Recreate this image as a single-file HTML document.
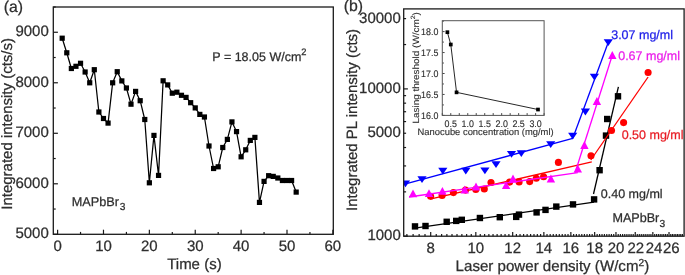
<!DOCTYPE html>
<html><head><meta charset="utf-8"><style>
html,body{margin:0;padding:0;background:#fff;}
svg{display:block;will-change:transform;text-rendering:geometricPrecision;font-family:"Liberation Sans",sans-serif;}
</style></head><body>
<svg width="685" height="275" viewBox="0 0 685 275">
<rect width="685" height="275" fill="#fff"/>
<line x1="53.30" y1="234.30" x2="57.90" y2="234.30" stroke="#1a1a1a" stroke-width="1.2"/>
<line x1="53.30" y1="209.04" x2="55.70" y2="209.04" stroke="#1a1a1a" stroke-width="1.2"/>
<line x1="53.30" y1="183.79" x2="57.90" y2="183.79" stroke="#1a1a1a" stroke-width="1.2"/>
<line x1="53.30" y1="158.53" x2="55.70" y2="158.53" stroke="#1a1a1a" stroke-width="1.2"/>
<line x1="53.30" y1="133.28" x2="57.90" y2="133.28" stroke="#1a1a1a" stroke-width="1.2"/>
<line x1="53.30" y1="108.02" x2="55.70" y2="108.02" stroke="#1a1a1a" stroke-width="1.2"/>
<line x1="53.30" y1="82.77" x2="57.90" y2="82.77" stroke="#1a1a1a" stroke-width="1.2"/>
<line x1="53.30" y1="57.51" x2="55.70" y2="57.51" stroke="#1a1a1a" stroke-width="1.2"/>
<line x1="53.30" y1="32.26" x2="57.90" y2="32.26" stroke="#1a1a1a" stroke-width="1.2"/>
<line x1="53.30" y1="7.00" x2="55.70" y2="7.00" stroke="#1a1a1a" stroke-width="1.2"/>
<line x1="57.60" y1="234.30" x2="57.60" y2="229.70" stroke="#1a1a1a" stroke-width="1.2"/>
<line x1="80.54" y1="234.30" x2="80.54" y2="231.90" stroke="#1a1a1a" stroke-width="1.2"/>
<line x1="103.48" y1="234.30" x2="103.48" y2="229.70" stroke="#1a1a1a" stroke-width="1.2"/>
<line x1="126.42" y1="234.30" x2="126.42" y2="231.90" stroke="#1a1a1a" stroke-width="1.2"/>
<line x1="149.36" y1="234.30" x2="149.36" y2="229.70" stroke="#1a1a1a" stroke-width="1.2"/>
<line x1="172.30" y1="234.30" x2="172.30" y2="231.90" stroke="#1a1a1a" stroke-width="1.2"/>
<line x1="195.24" y1="234.30" x2="195.24" y2="229.70" stroke="#1a1a1a" stroke-width="1.2"/>
<line x1="218.18" y1="234.30" x2="218.18" y2="231.90" stroke="#1a1a1a" stroke-width="1.2"/>
<line x1="241.12" y1="234.30" x2="241.12" y2="229.70" stroke="#1a1a1a" stroke-width="1.2"/>
<line x1="264.06" y1="234.30" x2="264.06" y2="231.90" stroke="#1a1a1a" stroke-width="1.2"/>
<line x1="287.00" y1="234.30" x2="287.00" y2="229.70" stroke="#1a1a1a" stroke-width="1.2"/>
<line x1="309.94" y1="234.30" x2="309.94" y2="231.90" stroke="#1a1a1a" stroke-width="1.2"/>
<line x1="332.88" y1="234.30" x2="332.88" y2="229.70" stroke="#1a1a1a" stroke-width="1.2"/>
<rect x="53.3" y="7.0" width="280.0" height="227.3" fill="none" stroke="#1a1a1a" stroke-width="1.3"/>
<polyline points="62.19,38.20 66.78,52.80 71.36,68.50 75.95,66.30 80.54,63.30 85.13,72.00 89.72,82.80 94.30,69.70 98.89,112.00 103.48,118.50 108.07,123.10 112.66,82.80 117.24,71.70 121.83,80.90 126.42,88.00 131.01,104.20 135.60,91.40 140.18,100.70 144.77,119.50 149.36,182.80 153.95,135.40 158.54,175.40 163.12,80.80 167.71,84.90 172.30,93.20 176.89,92.20 181.48,95.30 186.06,97.40 190.65,102.70 195.24,107.90 199.83,114.40 204.42,117.00 209.00,146.00 213.59,168.50 218.18,166.80 222.77,147.50 227.36,139.40 231.94,121.90 236.53,131.60 241.12,156.80 245.71,149.80 250.30,140.40 254.88,137.40 259.47,202.40 264.06,181.40 268.65,175.70 273.24,176.40 277.82,178.00 282.41,180.50 287.00,180.50 291.59,180.50 296.18,192.10" fill="none" stroke="#000" stroke-width="1.25" stroke-linejoin="round"/>
<rect x="59.59" y="35.60" width="5.20" height="5.20" fill="#000"/>
<rect x="64.18" y="50.20" width="5.20" height="5.20" fill="#000"/>
<rect x="68.76" y="65.90" width="5.20" height="5.20" fill="#000"/>
<rect x="73.35" y="63.70" width="5.20" height="5.20" fill="#000"/>
<rect x="77.94" y="60.70" width="5.20" height="5.20" fill="#000"/>
<rect x="82.53" y="69.40" width="5.20" height="5.20" fill="#000"/>
<rect x="87.12" y="80.20" width="5.20" height="5.20" fill="#000"/>
<rect x="91.70" y="67.10" width="5.20" height="5.20" fill="#000"/>
<rect x="96.29" y="109.40" width="5.20" height="5.20" fill="#000"/>
<rect x="100.88" y="115.90" width="5.20" height="5.20" fill="#000"/>
<rect x="105.47" y="120.50" width="5.20" height="5.20" fill="#000"/>
<rect x="110.06" y="80.20" width="5.20" height="5.20" fill="#000"/>
<rect x="114.64" y="69.10" width="5.20" height="5.20" fill="#000"/>
<rect x="119.23" y="78.30" width="5.20" height="5.20" fill="#000"/>
<rect x="123.82" y="85.40" width="5.20" height="5.20" fill="#000"/>
<rect x="128.41" y="101.60" width="5.20" height="5.20" fill="#000"/>
<rect x="133.00" y="88.80" width="5.20" height="5.20" fill="#000"/>
<rect x="137.58" y="98.10" width="5.20" height="5.20" fill="#000"/>
<rect x="142.17" y="116.90" width="5.20" height="5.20" fill="#000"/>
<rect x="146.76" y="180.20" width="5.20" height="5.20" fill="#000"/>
<rect x="151.35" y="132.80" width="5.20" height="5.20" fill="#000"/>
<rect x="155.94" y="172.80" width="5.20" height="5.20" fill="#000"/>
<rect x="160.52" y="78.20" width="5.20" height="5.20" fill="#000"/>
<rect x="165.11" y="82.30" width="5.20" height="5.20" fill="#000"/>
<rect x="169.70" y="90.60" width="5.20" height="5.20" fill="#000"/>
<rect x="174.29" y="89.60" width="5.20" height="5.20" fill="#000"/>
<rect x="178.88" y="92.70" width="5.20" height="5.20" fill="#000"/>
<rect x="183.46" y="94.80" width="5.20" height="5.20" fill="#000"/>
<rect x="188.05" y="100.10" width="5.20" height="5.20" fill="#000"/>
<rect x="192.64" y="105.30" width="5.20" height="5.20" fill="#000"/>
<rect x="197.23" y="111.80" width="5.20" height="5.20" fill="#000"/>
<rect x="201.82" y="114.40" width="5.20" height="5.20" fill="#000"/>
<rect x="206.40" y="143.40" width="5.20" height="5.20" fill="#000"/>
<rect x="210.99" y="165.90" width="5.20" height="5.20" fill="#000"/>
<rect x="215.58" y="164.20" width="5.20" height="5.20" fill="#000"/>
<rect x="220.17" y="144.90" width="5.20" height="5.20" fill="#000"/>
<rect x="224.76" y="136.80" width="5.20" height="5.20" fill="#000"/>
<rect x="229.34" y="119.30" width="5.20" height="5.20" fill="#000"/>
<rect x="233.93" y="129.00" width="5.20" height="5.20" fill="#000"/>
<rect x="238.52" y="154.20" width="5.20" height="5.20" fill="#000"/>
<rect x="243.11" y="147.20" width="5.20" height="5.20" fill="#000"/>
<rect x="247.70" y="137.80" width="5.20" height="5.20" fill="#000"/>
<rect x="252.28" y="134.80" width="5.20" height="5.20" fill="#000"/>
<rect x="256.87" y="199.80" width="5.20" height="5.20" fill="#000"/>
<rect x="261.46" y="178.80" width="5.20" height="5.20" fill="#000"/>
<rect x="266.05" y="173.10" width="5.20" height="5.20" fill="#000"/>
<rect x="270.64" y="173.80" width="5.20" height="5.20" fill="#000"/>
<rect x="275.22" y="175.40" width="5.20" height="5.20" fill="#000"/>
<rect x="279.81" y="177.90" width="5.20" height="5.20" fill="#000"/>
<rect x="284.40" y="177.90" width="5.20" height="5.20" fill="#000"/>
<rect x="288.99" y="177.90" width="5.20" height="5.20" fill="#000"/>
<rect x="293.58" y="189.50" width="5.20" height="5.20" fill="#000"/>
<text x="48.80" y="238.20" font-size="15" text-anchor="end" fill="#2e2e2e" stroke="#2e2e2e" stroke-width="0.25" >5000</text>
<text x="48.80" y="187.69" font-size="15" text-anchor="end" fill="#2e2e2e" stroke="#2e2e2e" stroke-width="0.25" >6000</text>
<text x="48.80" y="137.18" font-size="15" text-anchor="end" fill="#2e2e2e" stroke="#2e2e2e" stroke-width="0.25" >7000</text>
<text x="48.80" y="86.67" font-size="15" text-anchor="end" fill="#2e2e2e" stroke="#2e2e2e" stroke-width="0.25" >8000</text>
<text x="48.80" y="36.16" font-size="15" text-anchor="end" fill="#2e2e2e" stroke="#2e2e2e" stroke-width="0.25" >9000</text>
<text x="57.60" y="251.30" font-size="15" text-anchor="middle" fill="#2e2e2e" stroke="#2e2e2e" stroke-width="0.25" >0</text>
<text x="103.48" y="251.30" font-size="15" text-anchor="middle" fill="#2e2e2e" stroke="#2e2e2e" stroke-width="0.25" >10</text>
<text x="149.36" y="251.30" font-size="15" text-anchor="middle" fill="#2e2e2e" stroke="#2e2e2e" stroke-width="0.25" >20</text>
<text x="195.24" y="251.30" font-size="15" text-anchor="middle" fill="#2e2e2e" stroke="#2e2e2e" stroke-width="0.25" >30</text>
<text x="241.12" y="251.30" font-size="15" text-anchor="middle" fill="#2e2e2e" stroke="#2e2e2e" stroke-width="0.25" >40</text>
<text x="287.00" y="251.30" font-size="15" text-anchor="middle" fill="#2e2e2e" stroke="#2e2e2e" stroke-width="0.25" >50</text>
<text x="332.88" y="251.30" font-size="15" text-anchor="middle" fill="#2e2e2e" stroke="#2e2e2e" stroke-width="0.25" >60</text>
<text x="3.80" y="11.60" font-size="15.8" text-anchor="start" fill="#2e2e2e" stroke="#2e2e2e" stroke-width="0.25" >(a)</text>
<text x="12.20" y="123.90" font-size="15" text-anchor="middle" fill="#2e2e2e" stroke="#2e2e2e" stroke-width="0.25" transform="rotate(-90 12.2 123.9)">Integrated intensity (cts/s)</text>
<text x="167.20" y="269.40" font-size="15" text-anchor="start" fill="#2e2e2e" stroke="#2e2e2e" stroke-width="0.25" >Time (s)</text>
<text x="212.30" y="60.80" font-size="12.5" text-anchor="start" fill="#2e2e2e" stroke="#2e2e2e" stroke-width="0.25" >P = 18.05 W/cm<tspan font-size="9.3" dy="-5.8">2</tspan></text>
<text x="71.80" y="205.60" font-size="12.7" text-anchor="start" fill="#2e2e2e" stroke="#2e2e2e" stroke-width="0.25" >MAPbBr<tspan font-size="10.2" dx="0.7" dy="4.6">3</tspan></text>
<line x1="403.70" y1="236.20" x2="407.90" y2="236.20" stroke="#1a1a1a" stroke-width="1.2"/>
<line x1="403.70" y1="191.86" x2="406.10" y2="191.86" stroke="#1a1a1a" stroke-width="1.2"/>
<line x1="403.70" y1="165.92" x2="406.10" y2="165.92" stroke="#1a1a1a" stroke-width="1.2"/>
<line x1="403.70" y1="147.52" x2="406.10" y2="147.52" stroke="#1a1a1a" stroke-width="1.2"/>
<line x1="403.70" y1="133.24" x2="406.10" y2="133.24" stroke="#1a1a1a" stroke-width="1.2"/>
<line x1="403.70" y1="121.58" x2="406.10" y2="121.58" stroke="#1a1a1a" stroke-width="1.2"/>
<line x1="403.70" y1="111.72" x2="406.10" y2="111.72" stroke="#1a1a1a" stroke-width="1.2"/>
<line x1="403.70" y1="103.17" x2="406.10" y2="103.17" stroke="#1a1a1a" stroke-width="1.2"/>
<line x1="403.70" y1="95.64" x2="406.10" y2="95.64" stroke="#1a1a1a" stroke-width="1.2"/>
<line x1="403.70" y1="88.90" x2="407.90" y2="88.90" stroke="#1a1a1a" stroke-width="1.2"/>
<line x1="403.70" y1="44.56" x2="406.10" y2="44.56" stroke="#1a1a1a" stroke-width="1.2"/>
<line x1="403.70" y1="18.62" x2="406.10" y2="18.62" stroke="#1a1a1a" stroke-width="1.2"/>
<line x1="406.88" y1="236.20" x2="406.88" y2="234.00" stroke="#1a1a1a" stroke-width="1.2"/>
<line x1="413.11" y1="236.20" x2="413.11" y2="234.00" stroke="#1a1a1a" stroke-width="1.2"/>
<line x1="419.14" y1="236.20" x2="419.14" y2="234.00" stroke="#1a1a1a" stroke-width="1.2"/>
<line x1="425.00" y1="236.20" x2="425.00" y2="234.00" stroke="#1a1a1a" stroke-width="1.2"/>
<line x1="430.70" y1="236.20" x2="430.70" y2="232.00" stroke="#1a1a1a" stroke-width="1.2"/>
<line x1="436.24" y1="236.20" x2="436.24" y2="234.00" stroke="#1a1a1a" stroke-width="1.2"/>
<line x1="441.63" y1="236.20" x2="441.63" y2="234.00" stroke="#1a1a1a" stroke-width="1.2"/>
<line x1="446.88" y1="236.20" x2="446.88" y2="234.00" stroke="#1a1a1a" stroke-width="1.2"/>
<line x1="452.00" y1="236.20" x2="452.00" y2="234.00" stroke="#1a1a1a" stroke-width="1.2"/>
<line x1="457.00" y1="236.20" x2="457.00" y2="234.00" stroke="#1a1a1a" stroke-width="1.2"/>
<line x1="461.87" y1="236.20" x2="461.87" y2="234.00" stroke="#1a1a1a" stroke-width="1.2"/>
<line x1="466.63" y1="236.20" x2="466.63" y2="234.00" stroke="#1a1a1a" stroke-width="1.2"/>
<line x1="471.27" y1="236.20" x2="471.27" y2="234.00" stroke="#1a1a1a" stroke-width="1.2"/>
<line x1="475.82" y1="236.20" x2="475.82" y2="232.00" stroke="#1a1a1a" stroke-width="1.2"/>
<line x1="480.26" y1="236.20" x2="480.26" y2="234.00" stroke="#1a1a1a" stroke-width="1.2"/>
<line x1="484.61" y1="236.20" x2="484.61" y2="234.00" stroke="#1a1a1a" stroke-width="1.2"/>
<line x1="488.87" y1="236.20" x2="488.87" y2="234.00" stroke="#1a1a1a" stroke-width="1.2"/>
<line x1="493.04" y1="236.20" x2="493.04" y2="234.00" stroke="#1a1a1a" stroke-width="1.2"/>
<line x1="497.12" y1="236.20" x2="497.12" y2="234.00" stroke="#1a1a1a" stroke-width="1.2"/>
<line x1="501.12" y1="236.20" x2="501.12" y2="234.00" stroke="#1a1a1a" stroke-width="1.2"/>
<line x1="505.05" y1="236.20" x2="505.05" y2="234.00" stroke="#1a1a1a" stroke-width="1.2"/>
<line x1="508.90" y1="236.20" x2="508.90" y2="234.00" stroke="#1a1a1a" stroke-width="1.2"/>
<line x1="512.68" y1="236.20" x2="512.68" y2="232.00" stroke="#1a1a1a" stroke-width="1.2"/>
<line x1="516.39" y1="236.20" x2="516.39" y2="234.00" stroke="#1a1a1a" stroke-width="1.2"/>
<line x1="520.04" y1="236.20" x2="520.04" y2="234.00" stroke="#1a1a1a" stroke-width="1.2"/>
<line x1="523.61" y1="236.20" x2="523.61" y2="234.00" stroke="#1a1a1a" stroke-width="1.2"/>
<line x1="527.13" y1="236.20" x2="527.13" y2="234.00" stroke="#1a1a1a" stroke-width="1.2"/>
<line x1="530.59" y1="236.20" x2="530.59" y2="234.00" stroke="#1a1a1a" stroke-width="1.2"/>
<line x1="533.98" y1="236.20" x2="533.98" y2="234.00" stroke="#1a1a1a" stroke-width="1.2"/>
<line x1="537.33" y1="236.20" x2="537.33" y2="234.00" stroke="#1a1a1a" stroke-width="1.2"/>
<line x1="540.61" y1="236.20" x2="540.61" y2="234.00" stroke="#1a1a1a" stroke-width="1.2"/>
<line x1="543.85" y1="236.20" x2="543.85" y2="232.00" stroke="#1a1a1a" stroke-width="1.2"/>
<line x1="547.03" y1="236.20" x2="547.03" y2="234.00" stroke="#1a1a1a" stroke-width="1.2"/>
<line x1="550.17" y1="236.20" x2="550.17" y2="234.00" stroke="#1a1a1a" stroke-width="1.2"/>
<line x1="553.26" y1="236.20" x2="553.26" y2="234.00" stroke="#1a1a1a" stroke-width="1.2"/>
<line x1="556.30" y1="236.20" x2="556.30" y2="234.00" stroke="#1a1a1a" stroke-width="1.2"/>
<line x1="559.29" y1="236.20" x2="559.29" y2="234.00" stroke="#1a1a1a" stroke-width="1.2"/>
<line x1="562.24" y1="236.20" x2="562.24" y2="234.00" stroke="#1a1a1a" stroke-width="1.2"/>
<line x1="565.15" y1="236.20" x2="565.15" y2="234.00" stroke="#1a1a1a" stroke-width="1.2"/>
<line x1="568.02" y1="236.20" x2="568.02" y2="234.00" stroke="#1a1a1a" stroke-width="1.2"/>
<line x1="570.85" y1="236.20" x2="570.85" y2="232.00" stroke="#1a1a1a" stroke-width="1.2"/>
<line x1="573.64" y1="236.20" x2="573.64" y2="234.00" stroke="#1a1a1a" stroke-width="1.2"/>
<line x1="576.39" y1="236.20" x2="576.39" y2="234.00" stroke="#1a1a1a" stroke-width="1.2"/>
<line x1="579.10" y1="236.20" x2="579.10" y2="234.00" stroke="#1a1a1a" stroke-width="1.2"/>
<line x1="581.78" y1="236.20" x2="581.78" y2="234.00" stroke="#1a1a1a" stroke-width="1.2"/>
<line x1="584.42" y1="236.20" x2="584.42" y2="234.00" stroke="#1a1a1a" stroke-width="1.2"/>
<line x1="587.03" y1="236.20" x2="587.03" y2="234.00" stroke="#1a1a1a" stroke-width="1.2"/>
<line x1="589.61" y1="236.20" x2="589.61" y2="234.00" stroke="#1a1a1a" stroke-width="1.2"/>
<line x1="592.15" y1="236.20" x2="592.15" y2="234.00" stroke="#1a1a1a" stroke-width="1.2"/>
<line x1="594.66" y1="236.20" x2="594.66" y2="232.00" stroke="#1a1a1a" stroke-width="1.2"/>
<line x1="597.15" y1="236.20" x2="597.15" y2="234.00" stroke="#1a1a1a" stroke-width="1.2"/>
<line x1="599.60" y1="236.20" x2="599.60" y2="234.00" stroke="#1a1a1a" stroke-width="1.2"/>
<line x1="602.02" y1="236.20" x2="602.02" y2="234.00" stroke="#1a1a1a" stroke-width="1.2"/>
<line x1="604.41" y1="236.20" x2="604.41" y2="234.00" stroke="#1a1a1a" stroke-width="1.2"/>
<line x1="606.78" y1="236.20" x2="606.78" y2="234.00" stroke="#1a1a1a" stroke-width="1.2"/>
<line x1="609.11" y1="236.20" x2="609.11" y2="234.00" stroke="#1a1a1a" stroke-width="1.2"/>
<line x1="611.42" y1="236.20" x2="611.42" y2="234.00" stroke="#1a1a1a" stroke-width="1.2"/>
<line x1="613.71" y1="236.20" x2="613.71" y2="234.00" stroke="#1a1a1a" stroke-width="1.2"/>
<line x1="615.97" y1="236.20" x2="615.97" y2="232.00" stroke="#1a1a1a" stroke-width="1.2"/>
<line x1="618.20" y1="236.20" x2="618.20" y2="234.00" stroke="#1a1a1a" stroke-width="1.2"/>
<line x1="620.41" y1="236.20" x2="620.41" y2="234.00" stroke="#1a1a1a" stroke-width="1.2"/>
<line x1="622.60" y1="236.20" x2="622.60" y2="234.00" stroke="#1a1a1a" stroke-width="1.2"/>
<line x1="624.76" y1="236.20" x2="624.76" y2="234.00" stroke="#1a1a1a" stroke-width="1.2"/>
<line x1="626.90" y1="236.20" x2="626.90" y2="234.00" stroke="#1a1a1a" stroke-width="1.2"/>
<line x1="629.02" y1="236.20" x2="629.02" y2="234.00" stroke="#1a1a1a" stroke-width="1.2"/>
<line x1="631.11" y1="236.20" x2="631.11" y2="234.00" stroke="#1a1a1a" stroke-width="1.2"/>
<line x1="633.19" y1="236.20" x2="633.19" y2="234.00" stroke="#1a1a1a" stroke-width="1.2"/>
<line x1="635.24" y1="236.20" x2="635.24" y2="232.00" stroke="#1a1a1a" stroke-width="1.2"/>
<line x1="637.27" y1="236.20" x2="637.27" y2="234.00" stroke="#1a1a1a" stroke-width="1.2"/>
<line x1="639.28" y1="236.20" x2="639.28" y2="234.00" stroke="#1a1a1a" stroke-width="1.2"/>
<line x1="641.27" y1="236.20" x2="641.27" y2="234.00" stroke="#1a1a1a" stroke-width="1.2"/>
<line x1="643.25" y1="236.20" x2="643.25" y2="234.00" stroke="#1a1a1a" stroke-width="1.2"/>
<line x1="645.20" y1="236.20" x2="645.20" y2="234.00" stroke="#1a1a1a" stroke-width="1.2"/>
<line x1="647.14" y1="236.20" x2="647.14" y2="234.00" stroke="#1a1a1a" stroke-width="1.2"/>
<line x1="649.05" y1="236.20" x2="649.05" y2="234.00" stroke="#1a1a1a" stroke-width="1.2"/>
<line x1="650.95" y1="236.20" x2="650.95" y2="234.00" stroke="#1a1a1a" stroke-width="1.2"/>
<line x1="652.83" y1="236.20" x2="652.83" y2="232.00" stroke="#1a1a1a" stroke-width="1.2"/>
<line x1="654.70" y1="236.20" x2="654.70" y2="234.00" stroke="#1a1a1a" stroke-width="1.2"/>
<line x1="656.54" y1="236.20" x2="656.54" y2="234.00" stroke="#1a1a1a" stroke-width="1.2"/>
<line x1="658.37" y1="236.20" x2="658.37" y2="234.00" stroke="#1a1a1a" stroke-width="1.2"/>
<line x1="660.19" y1="236.20" x2="660.19" y2="234.00" stroke="#1a1a1a" stroke-width="1.2"/>
<line x1="661.98" y1="236.20" x2="661.98" y2="234.00" stroke="#1a1a1a" stroke-width="1.2"/>
<line x1="663.76" y1="236.20" x2="663.76" y2="234.00" stroke="#1a1a1a" stroke-width="1.2"/>
<line x1="665.53" y1="236.20" x2="665.53" y2="234.00" stroke="#1a1a1a" stroke-width="1.2"/>
<line x1="667.28" y1="236.20" x2="667.28" y2="234.00" stroke="#1a1a1a" stroke-width="1.2"/>
<line x1="669.02" y1="236.20" x2="669.02" y2="232.00" stroke="#1a1a1a" stroke-width="1.2"/>
<line x1="670.74" y1="236.20" x2="670.74" y2="234.00" stroke="#1a1a1a" stroke-width="1.2"/>
<line x1="672.44" y1="236.20" x2="672.44" y2="234.00" stroke="#1a1a1a" stroke-width="1.2"/>
<line x1="674.13" y1="236.20" x2="674.13" y2="234.00" stroke="#1a1a1a" stroke-width="1.2"/>
<line x1="675.81" y1="236.20" x2="675.81" y2="234.00" stroke="#1a1a1a" stroke-width="1.2"/>
<line x1="677.48" y1="236.20" x2="677.48" y2="234.00" stroke="#1a1a1a" stroke-width="1.2"/>
<line x1="679.13" y1="236.20" x2="679.13" y2="234.00" stroke="#1a1a1a" stroke-width="1.2"/>
<line x1="680.76" y1="236.20" x2="680.76" y2="234.00" stroke="#1a1a1a" stroke-width="1.2"/>
<line x1="682.39" y1="236.20" x2="682.39" y2="234.00" stroke="#1a1a1a" stroke-width="1.2"/>
<text x="400.80" y="240.20" font-size="15" text-anchor="end" fill="#2e2e2e" stroke="#2e2e2e" stroke-width="0.25" >1000</text>
<text x="400.80" y="137.24" font-size="15" text-anchor="end" fill="#2e2e2e" stroke="#2e2e2e" stroke-width="0.25" >5000</text>
<text x="400.80" y="92.90" font-size="15" text-anchor="end" fill="#2e2e2e" stroke="#2e2e2e" stroke-width="0.25" >10000</text>
<text x="400.80" y="22.62" font-size="15" text-anchor="end" fill="#2e2e2e" stroke="#2e2e2e" stroke-width="0.25" >30000</text>
<text x="430.70" y="252.70" font-size="15" text-anchor="middle" fill="#2e2e2e" stroke="#2e2e2e" stroke-width="0.25" >8</text>
<text x="475.82" y="252.70" font-size="15" text-anchor="middle" fill="#2e2e2e" stroke="#2e2e2e" stroke-width="0.25" >10</text>
<text x="512.68" y="252.70" font-size="15" text-anchor="middle" fill="#2e2e2e" stroke="#2e2e2e" stroke-width="0.25" >12</text>
<text x="543.85" y="252.70" font-size="15" text-anchor="middle" fill="#2e2e2e" stroke="#2e2e2e" stroke-width="0.25" >14</text>
<text x="570.85" y="252.70" font-size="15" text-anchor="middle" fill="#2e2e2e" stroke="#2e2e2e" stroke-width="0.25" >16</text>
<text x="594.66" y="252.70" font-size="15" text-anchor="middle" fill="#2e2e2e" stroke="#2e2e2e" stroke-width="0.25" >18</text>
<text x="615.97" y="252.70" font-size="15" text-anchor="middle" fill="#2e2e2e" stroke="#2e2e2e" stroke-width="0.25" >20</text>
<text x="635.84" y="252.70" font-size="15" text-anchor="middle" fill="#2e2e2e" stroke="#2e2e2e" stroke-width="0.25" >22</text>
<text x="654.13" y="252.70" font-size="15" text-anchor="middle" fill="#2e2e2e" stroke="#2e2e2e" stroke-width="0.25" >24</text>
<text x="671.32" y="252.70" font-size="15" text-anchor="middle" fill="#2e2e2e" stroke="#2e2e2e" stroke-width="0.25" >26</text>
<text x="343.80" y="11.40" font-size="15.8" text-anchor="start" fill="#2e2e2e" stroke="#2e2e2e" stroke-width="0.25" >(b)</text>
<text x="356.80" y="119.90" font-size="15" text-anchor="middle" fill="#2e2e2e" stroke="#2e2e2e" stroke-width="0.25" transform="rotate(-90 356.8 119.9)">Integrated PL intensity (cts)</text>
<text x="455.60" y="271.00" font-size="15.1" text-anchor="start" fill="#2e2e2e" stroke="#2e2e2e" stroke-width="0.25" >Laser power density (W/cm<tspan font-size="10.2" dy="-5.0">2</tspan><tspan dy="5.0">)</tspan></text>
<line x1="442.30" y1="115.40" x2="442.30" y2="113.10" stroke="#333" stroke-width="0.9"/>
<line x1="450.78" y1="115.40" x2="450.78" y2="113.10" stroke="#333" stroke-width="0.9"/>
<line x1="459.27" y1="115.40" x2="459.27" y2="113.10" stroke="#333" stroke-width="0.9"/>
<line x1="467.75" y1="115.40" x2="467.75" y2="113.10" stroke="#333" stroke-width="0.9"/>
<line x1="476.23" y1="115.40" x2="476.23" y2="113.10" stroke="#333" stroke-width="0.9"/>
<line x1="484.72" y1="115.40" x2="484.72" y2="113.10" stroke="#333" stroke-width="0.9"/>
<line x1="493.20" y1="115.40" x2="493.20" y2="113.10" stroke="#333" stroke-width="0.9"/>
<line x1="501.68" y1="115.40" x2="501.68" y2="113.10" stroke="#333" stroke-width="0.9"/>
<line x1="510.17" y1="115.40" x2="510.17" y2="113.10" stroke="#333" stroke-width="0.9"/>
<line x1="518.65" y1="115.40" x2="518.65" y2="113.10" stroke="#333" stroke-width="0.9"/>
<line x1="527.13" y1="115.40" x2="527.13" y2="113.10" stroke="#333" stroke-width="0.9"/>
<line x1="535.62" y1="115.40" x2="535.62" y2="113.10" stroke="#333" stroke-width="0.9"/>
<line x1="544.10" y1="115.40" x2="544.10" y2="113.10" stroke="#333" stroke-width="0.9"/>
<line x1="442.30" y1="115.40" x2="444.60" y2="115.40" stroke="#333" stroke-width="0.9"/>
<line x1="442.30" y1="104.93" x2="443.90" y2="104.93" stroke="#333" stroke-width="0.9"/>
<line x1="442.30" y1="94.45" x2="444.60" y2="94.45" stroke="#333" stroke-width="0.9"/>
<line x1="442.30" y1="83.98" x2="443.90" y2="83.98" stroke="#333" stroke-width="0.9"/>
<line x1="442.30" y1="73.50" x2="444.60" y2="73.50" stroke="#333" stroke-width="0.9"/>
<line x1="442.30" y1="63.03" x2="443.90" y2="63.03" stroke="#333" stroke-width="0.9"/>
<line x1="442.30" y1="52.55" x2="444.60" y2="52.55" stroke="#333" stroke-width="0.9"/>
<line x1="442.30" y1="42.08" x2="443.90" y2="42.08" stroke="#333" stroke-width="0.9"/>
<line x1="442.30" y1="31.60" x2="444.60" y2="31.60" stroke="#333" stroke-width="0.9"/>
<line x1="442.30" y1="21.13" x2="443.90" y2="21.13" stroke="#333" stroke-width="0.9"/>
<rect x="442.3" y="20.7" width="101.80000000000001" height="94.7" fill="none" stroke="#555" stroke-width="1.0"/>
<polyline points="447.39,32.19 450.78,44.51 456.55,92.35 537.99,109.53" fill="none" stroke="#000" stroke-width="0.85" stroke-linejoin="round"/>
<rect x="445.54" y="30.34" width="3.70" height="3.70" fill="#000"/>
<rect x="448.93" y="42.66" width="3.70" height="3.70" fill="#000"/>
<rect x="454.70" y="90.50" width="3.70" height="3.70" fill="#000"/>
<rect x="536.14" y="107.68" width="3.70" height="3.70" fill="#000"/>
<text x="438.40" y="118.80" font-size="8.9" text-anchor="end" fill="#2e2e2e" stroke="#2e2e2e" stroke-width="0.12" transform="translate(0 115.40) scale(1 1.07) translate(0 -115.40)">16.0</text>
<text x="438.40" y="97.85" font-size="8.9" text-anchor="end" fill="#2e2e2e" stroke="#2e2e2e" stroke-width="0.12" transform="translate(0 94.45) scale(1 1.07) translate(0 -94.45)">16.5</text>
<text x="438.40" y="76.90" font-size="8.9" text-anchor="end" fill="#2e2e2e" stroke="#2e2e2e" stroke-width="0.12" transform="translate(0 73.50) scale(1 1.07) translate(0 -73.50)">17.0</text>
<text x="438.40" y="55.95" font-size="8.9" text-anchor="end" fill="#2e2e2e" stroke="#2e2e2e" stroke-width="0.12" transform="translate(0 52.55) scale(1 1.07) translate(0 -52.55)">17.5</text>
<text x="438.40" y="35.00" font-size="8.9" text-anchor="end" fill="#2e2e2e" stroke="#2e2e2e" stroke-width="0.12" transform="translate(0 31.60) scale(1 1.07) translate(0 -31.60)">18.0</text>
<text x="450.78" y="126.60" font-size="8.9" text-anchor="middle" fill="#2e2e2e" stroke="#2e2e2e" stroke-width="0.12" transform="translate(0 123) scale(1 1.07) translate(0 -123)">0.5</text>
<text x="467.75" y="126.60" font-size="8.9" text-anchor="middle" fill="#2e2e2e" stroke="#2e2e2e" stroke-width="0.12" transform="translate(0 123) scale(1 1.07) translate(0 -123)">1.0</text>
<text x="484.72" y="126.60" font-size="8.9" text-anchor="middle" fill="#2e2e2e" stroke="#2e2e2e" stroke-width="0.12" transform="translate(0 123) scale(1 1.07) translate(0 -123)">1.5</text>
<text x="501.68" y="126.60" font-size="8.9" text-anchor="middle" fill="#2e2e2e" stroke="#2e2e2e" stroke-width="0.12" transform="translate(0 123) scale(1 1.07) translate(0 -123)">2.0</text>
<text x="518.65" y="126.60" font-size="8.9" text-anchor="middle" fill="#2e2e2e" stroke="#2e2e2e" stroke-width="0.12" transform="translate(0 123) scale(1 1.07) translate(0 -123)">2.5</text>
<text x="535.62" y="126.60" font-size="8.9" text-anchor="middle" fill="#2e2e2e" stroke="#2e2e2e" stroke-width="0.12" transform="translate(0 123) scale(1 1.07) translate(0 -123)">3.0</text>
<text x="417.60" y="135.40" font-size="9.4" text-anchor="start" fill="#2e2e2e" stroke="#2e2e2e" stroke-width="0.12" >Nanocube concentration (mg/ml)</text>
<text x="0.00" y="0.00" font-size="9.1" text-anchor="middle" fill="#2e2e2e" stroke="#2e2e2e" stroke-width="0.12" transform="translate(418.8 67.85) rotate(-90) scale(1.092 1)">Lasing threshold (W/cm<tspan font-size="6.2" dy="-3.4">2</tspan><tspan dy="3.4">)</tspan></text>
<clipPath id="cp"><rect x="403.7" y="8.9" width="280.40000000000003" height="227.29999999999998"/></clipPath><g clip-path="url(#cp)">
<rect x="411.80" y="223.20" width="6.40" height="6.40" fill="#000"/>
<rect x="422.30" y="222.80" width="6.40" height="6.40" fill="#000"/>
<rect x="443.50" y="218.60" width="6.40" height="6.40" fill="#000"/>
<rect x="453.00" y="217.70" width="6.40" height="6.40" fill="#000"/>
<rect x="458.60" y="216.60" width="6.40" height="6.40" fill="#000"/>
<rect x="476.70" y="214.80" width="6.40" height="6.40" fill="#000"/>
<rect x="496.60" y="214.00" width="6.40" height="6.40" fill="#000"/>
<rect x="513.00" y="213.70" width="6.40" height="6.40" fill="#000"/>
<rect x="515.80" y="211.40" width="6.40" height="6.40" fill="#000"/>
<rect x="533.40" y="209.20" width="6.40" height="6.40" fill="#000"/>
<rect x="542.30" y="206.70" width="6.40" height="6.40" fill="#000"/>
<rect x="553.10" y="203.40" width="6.40" height="6.40" fill="#000"/>
<rect x="569.80" y="201.20" width="6.40" height="6.40" fill="#000"/>
<rect x="590.90" y="196.20" width="6.40" height="6.40" fill="#000"/>
<rect x="596.40" y="167.00" width="6.40" height="6.40" fill="#000"/>
<rect x="602.80" y="132.40" width="6.40" height="6.40" fill="#000"/>
<rect x="604.00" y="115.80" width="6.40" height="6.40" fill="#000"/>
<rect x="614.80" y="93.10" width="6.40" height="6.40" fill="#000"/>
<line x1="413.00" y1="228.30" x2="594.00" y2="202.20" stroke="#000" stroke-width="1.3"/>
<line x1="593.50" y1="194.00" x2="618.40" y2="86.90" stroke="#000" stroke-width="1.3"/>
<circle cx="430.60" cy="196.20" r="3.55" fill="#ff0000"/>
<circle cx="442.10" cy="195.40" r="3.55" fill="#ff0000"/>
<circle cx="453.40" cy="192.60" r="3.55" fill="#ff0000"/>
<circle cx="465.50" cy="190.10" r="3.55" fill="#ff0000"/>
<circle cx="475.80" cy="189.40" r="3.55" fill="#ff0000"/>
<circle cx="484.30" cy="189.00" r="3.55" fill="#ff0000"/>
<circle cx="491.00" cy="182.50" r="3.55" fill="#ff0000"/>
<circle cx="509.60" cy="182.10" r="3.55" fill="#ff0000"/>
<circle cx="519.10" cy="181.90" r="3.55" fill="#ff0000"/>
<circle cx="529.70" cy="181.60" r="3.55" fill="#ff0000"/>
<circle cx="536.30" cy="178.20" r="3.55" fill="#ff0000"/>
<circle cx="543.60" cy="176.80" r="3.55" fill="#ff0000"/>
<circle cx="558.40" cy="162.40" r="3.55" fill="#ff0000"/>
<circle cx="591.00" cy="155.70" r="3.55" fill="#ff0000"/>
<circle cx="611.50" cy="130.50" r="3.55" fill="#ff0000"/>
<circle cx="623.60" cy="122.60" r="3.55" fill="#ff0000"/>
<circle cx="648.10" cy="72.50" r="3.55" fill="#ff0000"/>
<line x1="430.00" y1="199.20" x2="591.80" y2="161.90" stroke="#ff0000" stroke-width="1.3"/>
<line x1="590.80" y1="160.00" x2="648.10" y2="77.00" stroke="#ff0000" stroke-width="1.3"/>
<polygon points="408.80,197.30 417.20,197.30 413.00,189.50" fill="#ff00ff"/>
<polygon points="424.80,197.00 433.20,197.00 429.00,189.20" fill="#ff00ff"/>
<polygon points="438.20,194.70 446.60,194.70 442.40,186.90" fill="#ff00ff"/>
<polygon points="460.50,193.40 468.90,193.40 464.70,185.60" fill="#ff00ff"/>
<polygon points="471.80,190.40 480.20,190.40 476.00,182.60" fill="#ff00ff"/>
<polygon points="501.90,189.00 510.30,189.00 506.10,181.20" fill="#ff00ff"/>
<polygon points="508.80,182.40 517.20,182.40 513.00,174.60" fill="#ff00ff"/>
<polygon points="546.70,182.40 555.10,182.40 550.90,174.60" fill="#ff00ff"/>
<polygon points="573.60,172.60 582.00,172.60 577.80,164.80" fill="#ff00ff"/>
<polygon points="580.20,148.90 588.60,148.90 584.40,141.10" fill="#ff00ff"/>
<polygon points="592.70,104.90 601.10,104.90 596.90,97.10" fill="#ff00ff"/>
<polygon points="608.10,58.90 616.50,58.90 612.30,51.10" fill="#ff00ff"/>
<line x1="409.00" y1="197.00" x2="577.80" y2="172.70" stroke="#ff00ff" stroke-width="1.3"/>
<line x1="575.10" y1="172.70" x2="612.20" y2="55.50" stroke="#ff00ff" stroke-width="1.3"/>
<polygon points="400.90,180.40 410.10,180.40 405.50,187.20" fill="#0000ff"/>
<polygon points="417.40,176.20 426.60,176.20 422.00,183.00" fill="#0000ff"/>
<polygon points="438.20,167.80 447.40,167.80 442.80,174.60" fill="#0000ff"/>
<polygon points="461.20,167.70 470.40,167.70 465.80,174.50" fill="#0000ff"/>
<polygon points="480.30,167.40 489.50,167.40 484.90,174.20" fill="#0000ff"/>
<polygon points="491.40,161.30 500.60,161.30 496.00,168.10" fill="#0000ff"/>
<polygon points="506.90,150.90 516.10,150.90 511.50,157.70" fill="#0000ff"/>
<polygon points="516.70,150.30 525.90,150.30 521.30,157.10" fill="#0000ff"/>
<polygon points="546.10,141.30 555.30,141.30 550.70,148.10" fill="#0000ff"/>
<polygon points="568.10,132.80 577.30,132.80 572.70,139.60" fill="#0000ff"/>
<polygon points="580.80,108.60 590.00,108.60 585.40,115.40" fill="#0000ff"/>
<polygon points="589.80,73.80 599.00,73.80 594.40,80.60" fill="#0000ff"/>
<polygon points="603.70,39.30 612.90,39.30 608.30,46.10" fill="#0000ff"/>
<line x1="403.80" y1="184.40" x2="572.70" y2="138.40" stroke="#0000ff" stroke-width="1.3"/>
<line x1="572.70" y1="138.40" x2="608.30" y2="42.30" stroke="#0000ff" stroke-width="1.3"/>
</g>
<rect x="403.7" y="8.9" width="280.40000000000003" height="227.29999999999998" fill="none" stroke="#1a1a1a" stroke-width="1.3"/>
<text x="611.20" y="38.60" font-size="12.5" text-anchor="start" fill="#1c1ce8" stroke="#1c1ce8" stroke-width="0.25" >3.07 mg/ml</text>
<text x="618.20" y="60.40" font-size="12.5" text-anchor="start" fill="#ea1cea" stroke="#ea1cea" stroke-width="0.25" >0.67 mg/ml</text>
<text x="621.70" y="138.80" font-size="12.5" text-anchor="start" fill="#e81c24" stroke="#e81c24" stroke-width="0.25" >0.50 mg/ml</text>
<text x="600.80" y="198.00" font-size="12.5" text-anchor="start" fill="#2e2e2e" stroke="#2e2e2e" stroke-width="0.25" >0.40 mg/ml</text>
<text x="612.40" y="222.20" font-size="12.6" text-anchor="start" fill="#2e2e2e" stroke="#2e2e2e" stroke-width="0.25" >MAPbBr<tspan font-size="10.2" dx="0.2" dy="4.6">3</tspan></text>
</svg>
</body></html>
